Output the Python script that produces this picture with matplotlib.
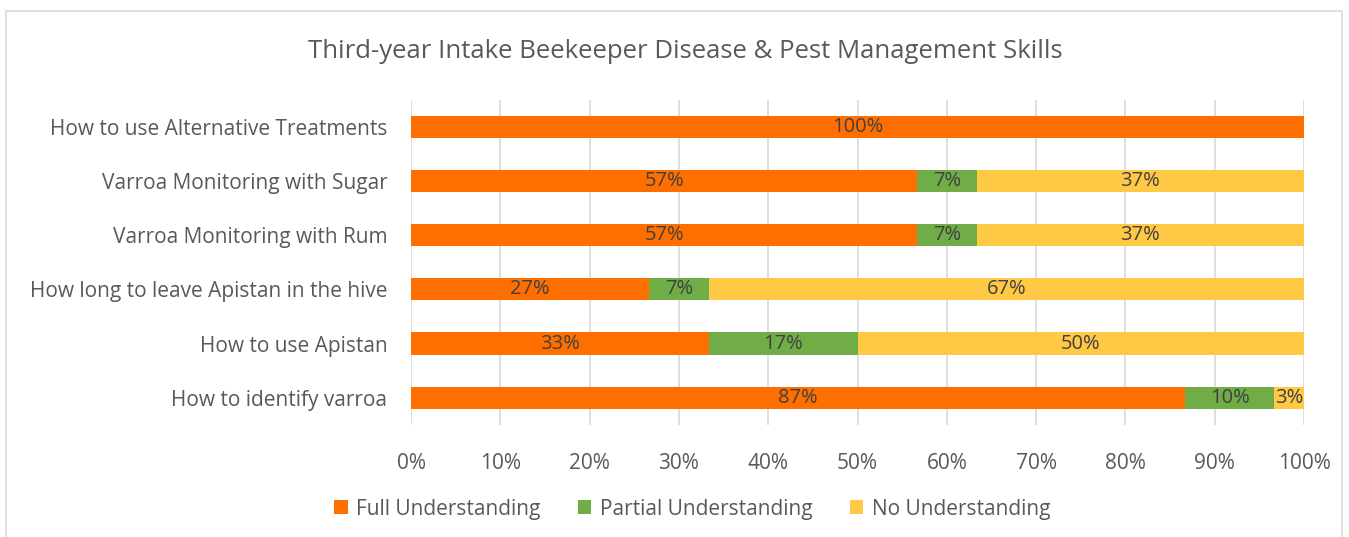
import matplotlib.pyplot as plt
import numpy as np

plt.rcParams['font.family'] = ['Open Sans', 'DejaVu Sans']

# data (percent of respondents), bottom to top
skills = ["How to identify varroa", "How to use Apistan",
          "How long to leave Apistan in the hive", "Varroa Monitoring with Rum",
          "Varroa Monitoring with Sugar", "How to use Alternative Treatments"]
full = [86.67, 33.33, 26.67, 56.67, 56.67, 100.0]
partial = [10.0, 16.67, 6.67, 6.67, 6.67, 0.0]
none_ = [3.33, 50.0, 66.67, 36.67, 36.67, 0.0]

series = ["Full Understanding", "Partial Understanding", "No Understanding"]
colors = ["#FF6F00", "#70AD47", "#FFC845"]

fig = plt.figure(figsize=(13.49, 5.37), dpi=100)
ax = fig.add_axes([0.3047, 0.209, 0.662, 0.605])

y = np.arange(len(skills))
left = np.zeros(len(skills))
for name, vals, c in zip(series, [full, partial, none_], colors):
    vals = np.array(vals)
    bars = ax.barh(y, vals, left=left, height=0.41, color=c, label=name, zorder=2)
    for b, v in zip(bars, vals):
        if v > 0:
            ax.text(b.get_x() + b.get_width() / 2, b.get_y() + b.get_height() / 2,
                    f"{v:.0f}%", ha='center', va='center', fontsize=14.5,
                    color='#404040', zorder=3)
    left += vals

ax.set_xlim(0, 100)
ax.set_ylim(-0.5, len(skills) - 0.5)
ax.set_xticks(np.arange(0, 101, 10))
ax.set_xticklabels([f"{t}%" for t in range(0, 101, 10)])
ax.set_yticks(y)
ax.set_yticklabels(skills)
ax.tick_params(axis='both', length=0, labelsize=15, colors='#595959')
ax.tick_params(axis='x', pad=20)
ax.tick_params(axis='y', pad=17)
ax.grid(axis='x', color='#D9D9D9', linewidth=1.2, zorder=0)
for s in ax.spines.values():
    s.set_visible(False)

fig.text(0.508, 0.905, "Third-year Intake Beekeeper Disease & Pest Management Skills",
         ha='center', va='center', fontsize=18.5, color='#595959')

fig.legend(loc='center', bbox_to_anchor=(0.513, 0.052), ncol=3, frameon=False,
           fontsize=15, handlelength=0.65, handleheight=0.65, handletextpad=0.4,
           columnspacing=1.8, labelcolor='#595959')

# outer chart frame
fig.add_artist(plt.Rectangle((0.0045, -0.01), 0.99, 0.99, transform=fig.transFigure,
                             fill=False, edgecolor='#D9D9D9', linewidth=1.2))

fig.savefig("out.png", dpi=100)
